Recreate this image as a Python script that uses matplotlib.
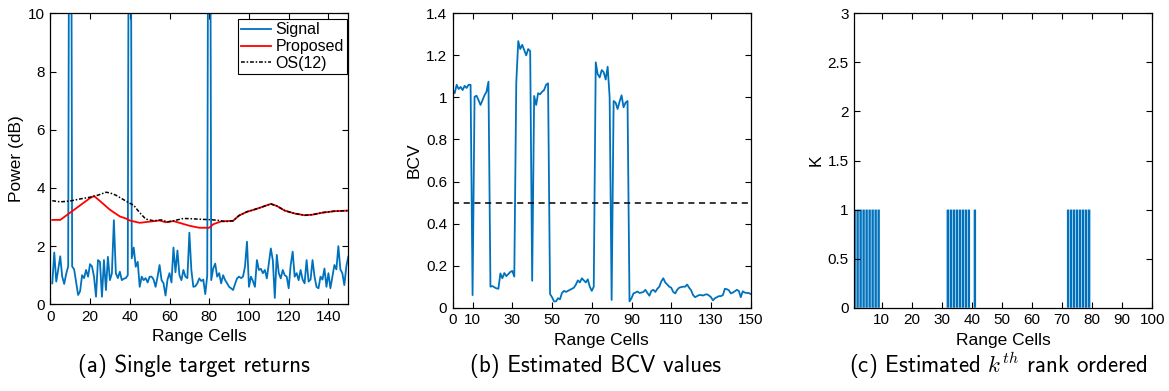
import numpy as np
import matplotlib
matplotlib.use("Agg")
import matplotlib.pyplot as plt

# ---------------- data ----------------
# (a) single target returns
signal_cells = list(range(1, 151))
signal_power = [
    0.72, 1.78, 0.78, 1.20, 1.65, 0.95, 0.70, 1.05, 1.30, 30.0,
    1.30, 1.20, 0.75, 0.32, 0.45, 1.00, 0.90, 1.18, 0.95, 1.38,
    1.30, 0.95, 0.26, 1.52, 1.46, 0.26, 1.52, 0.49, 1.63, 0.83,
    1.06, 2.89, 1.06, 0.90, 1.12, 0.83, 0.88, 0.90, 1.00, 30.0,
    1.58, 1.95, 1.29, 1.46, 0.60, 0.95, 0.83, 0.90, 0.75, 0.95,
    0.95, 0.85, 0.60, 0.95, 1.35, 0.83, 0.72, 0.30, 0.85, 1.07,
    0.75, 1.95, 1.10, 1.85, 1.00, 0.83, 1.18, 0.95, 0.90, 2.46,
    1.18, 0.60, 0.62, 0.72, 0.89, 0.80, 0.85, 0.35, 1.00, 30.0,
    0.83, 1.23, 1.40, 0.95, 1.07, 0.72, 1.00, 0.83, 0.72, 0.60,
    0.55, 0.49, 0.70, 0.89, 0.95, 0.90, 0.95, 1.30, 2.15, 0.60,
    0.95, 0.80, 0.60, 1.52, 1.18, 1.22, 1.07, 1.18, 0.89, 1.40,
    1.92, 1.52, 0.22, 1.70, 1.07, 0.89, 1.18, 1.00, 0.95, 0.55,
    1.35, 1.81, 0.95, 1.07, 0.83, 1.18, 0.85, 0.72, 1.52, 0.78,
    0.85, 1.52, 0.95, 0.60, 0.55, 0.95, 0.85, 1.23, 0.60, 1.07,
    0.55, 0.95, 1.35, 1.20, 2.00, 1.20, 1.07, 0.66, 1.30, 1.64,
]

proposed_cells = [1, 5, 10, 15, 20, 22, 25, 30, 35, 38, 40, 45, 50, 55, 58, 62,
                  65, 70, 75, 80, 82, 86, 92, 95, 99, 102, 106, 111, 114, 118,
                  123, 128, 132, 137, 143, 150]
proposed_power = [2.90, 2.90, 3.15, 3.40, 3.65, 3.72, 3.55, 3.25, 3.02, 2.95,
                  2.88, 2.80, 2.84, 2.88, 2.82, 2.86, 2.80, 2.70, 2.63, 2.63,
                  2.75, 2.85, 2.87, 3.05, 3.18, 3.24, 3.33, 3.45, 3.38, 3.22,
                  3.12, 3.06, 3.08, 3.15, 3.20, 3.22]

os_cells = [1, 5, 10, 15, 20, 24, 28, 30, 33, 38, 42, 45, 48, 52, 56, 59, 62,
            67, 71, 76, 80, 84, 88, 92, 95, 99, 102, 106, 111, 114, 118, 123,
            128, 132, 137, 143, 150]
os_power = [3.56, 3.52, 3.55, 3.62, 3.68, 3.75, 3.85, 3.83, 3.75, 3.55, 3.40,
            3.15, 2.93, 2.87, 2.90, 2.83, 2.87, 2.95, 2.94, 2.92, 2.91, 2.89,
            2.84, 2.87, 3.05, 3.18, 3.24, 3.33, 3.45, 3.38, 3.22, 3.12, 3.06,
            3.08, 3.15, 3.20, 3.22]

# (b) estimated BCV values
bcv_cells = list(range(0, 151))
bcv_values = [
    1.035, 1.02, 1.06, 1.04, 1.05, 1.035, 1.055, 1.045, 1.06, 1.06,      # 0-9
    0.06, 1.003, 1.008, 0.987, 0.964, 0.987, 1.01, 1.027, 1.075,         # 10-18
    0.10, 0.103, 0.097, 0.092, 0.09, 0.163, 0.14, 0.165, 0.15, 0.16,     # 19-28
    0.17, 0.175, 0.148,                                                  # 29-31
    1.07, 1.268, 1.23, 1.25, 1.225, 1.20, 1.23, 1.22,                    # 32-39
    0.128,                                                               # 40
    1.007, 0.964, 1.02, 1.015, 1.027, 1.035, 1.06, 1.067,                # 41-48
    0.065, 0.05, 0.03, 0.03, 0.045, 0.04, 0.07, 0.08, 0.075, 0.08,       # 49-58
    0.085, 0.09, 0.095, 0.11, 0.13, 0.12, 0.14, 0.13, 0.12, 0.135,       # 59-68
    0.10, 0.08, 0.10,                                                    # 69-71
    1.167, 1.11, 1.095, 1.13, 1.12, 1.085, 1.146, 1.0,                   # 72-79
    0.037,                                                               # 80
    0.983, 0.975, 0.945, 0.98, 1.01, 0.953, 0.975, 0.983,                # 81-88
    0.03, 0.045, 0.068, 0.072, 0.077, 0.07, 0.072, 0.075, 0.085, 0.07,   # 89-98
    0.057, 0.08, 0.085, 0.075, 0.09, 0.10, 0.125, 0.14, 0.12, 0.11,      # 99-108
    0.10, 0.095, 0.075, 0.068, 0.085, 0.095, 0.098, 0.10, 0.10, 0.11,    # 109-118
    0.095, 0.083, 0.06, 0.05, 0.055, 0.06, 0.06, 0.058, 0.062, 0.064,    # 119-128
    0.058, 0.05, 0.035, 0.045, 0.05, 0.055, 0.055, 0.06, 0.09, 0.088,    # 129-138
    0.083, 0.068, 0.072, 0.078, 0.085, 0.08, 0.05, 0.078, 0.072, 0.07,   # 139-148
    0.07, 0.065,                                                         # 149-150
]
bcv_threshold = 0.5

# (c) estimated k-th rank ordered
k_cells = [1, 2, 3, 4, 5, 6, 7, 8, 9,
           32, 33, 34, 35, 36, 37, 38, 39, 41,
           72, 73, 74, 75, 76, 77, 78, 79]
k_values = [1] * len(k_cells)

# ---------------- style ----------------
BLUE = "#0072BD"
FONT = ["Liberation Sans", "DejaVu Sans"]
plt.rcParams["font.family"] = FONT
plt.rcParams["mathtext.fontset"] = "cm"
TICK_FS = 11
LABEL_FS = 12.5

W, H = 1169, 391
fig = plt.figure(figsize=(W / 100, H / 100), dpi=100)


def axes_px(left, right, top, bottom):
    return fig.add_axes([left / W, 1 - bottom / H, (right - left) / W, (bottom - top) / H])


def style(ax):
    ax.tick_params(direction="in", top=True, right=True, length=4, width=0.8,
                   labelsize=TICK_FS, pad=4)
    for s in ax.spines.values():
        s.set_linewidth(0.9)


# (a)
ax1 = axes_px(50.3, 348.3, 13.3, 304.3)
ax1.plot(signal_cells, signal_power, color=BLUE, lw=1.3, label="Signal")
ax1.plot(proposed_cells, proposed_power, color="#FF0000", lw=1.3, label="Proposed")
ax1.plot(os_cells, os_power, color="black", lw=1.1, ls=(0, (2.5, 1.2, 1, 1.2)), label="OS(12)")
ax1.set_xlim(0, 150)
ax1.set_ylim(0, 10)
ax1.set_xticks(np.arange(0, 141, 20))
ax1.set_yticks(np.arange(0, 11, 2))
ax1.set_xlabel("Range Cells", fontsize=LABEL_FS, labelpad=4)
ax1.set_ylabel("Power (dB)", fontsize=LABEL_FS, labelpad=3)
style(ax1)
leg = ax1.legend(loc="upper right", bbox_to_anchor=(1 - 1.3 / 298, 1 - 5.7 / 291),
                 borderaxespad=0, fancybox=False, edgecolor="black", framealpha=1,
                 fontsize=11.5, handlelength=1.9, handletextpad=0.25,
                 labelspacing=0.12, borderpad=0.2)
leg.get_frame().set_linewidth(0.8)

# (b)
ax2 = axes_px(452.7, 750.7, 13.3, 307.7)
ax2.plot(bcv_cells, bcv_values, color=BLUE, lw=1.3)
ax2.axhline(bcv_threshold, color="black", lw=1.1, ls=(0, (4, 3)))
ax2.set_xlim(0, 150)
ax2.set_ylim(0, 1.4)
ax2.set_xticks([0, 10, 30, 50, 70, 90, 110, 130, 150])
yt = [0, 0.2, 0.4, 0.6, 0.8, 1.0, 1.2, 1.4]
ax2.set_yticks(yt)
ax2.set_yticklabels(["0", "0.2", "0.4", "0.6", "0.8", "1", "1.2", "1.4"])
ax2.set_xlabel("Range Cells", fontsize=LABEL_FS, labelpad=4)
ax2.set_ylabel("BCV", fontsize=LABEL_FS, labelpad=3)
style(ax2)

# (c)
ax3 = axes_px(854.3, 1152.3, 13.3, 307.7)
ax3.bar(k_cells, k_values, width=0.8, color=BLUE, edgecolor="none", snap=False)
ax3.set_xlim(0.9, 100)
ax3.set_ylim(0, 3)
ax3.set_xticks(np.arange(10, 101, 10))
ax3.set_yticks([0, 0.5, 1, 1.5, 2, 2.5, 3])
ax3.set_yticklabels(["0", "0.5", "1", "1.5", "2", "2.5", "3"])
ax3.set_xlabel("Range Cells", fontsize=LABEL_FS, labelpad=4)
ax3.set_ylabel("K", fontsize=LABEL_FS, labelpad=3)
style(ax3)

# captions
cap_y = 1 - 366 / H
cap_kw = dict(fontsize=16.5, family="cmss10", ha="center", va="center")
fig.text(194 / W, cap_y, "(a) Single target returns", **cap_kw)
fig.text(595 / W, cap_y, "(b) Estimated BCV values", **cap_kw)
fig.text(998 / W, cap_y, r"(c) Estimated $k^{th}$ rank ordered", **cap_kw)

fig.savefig("out.png", dpi=100)
